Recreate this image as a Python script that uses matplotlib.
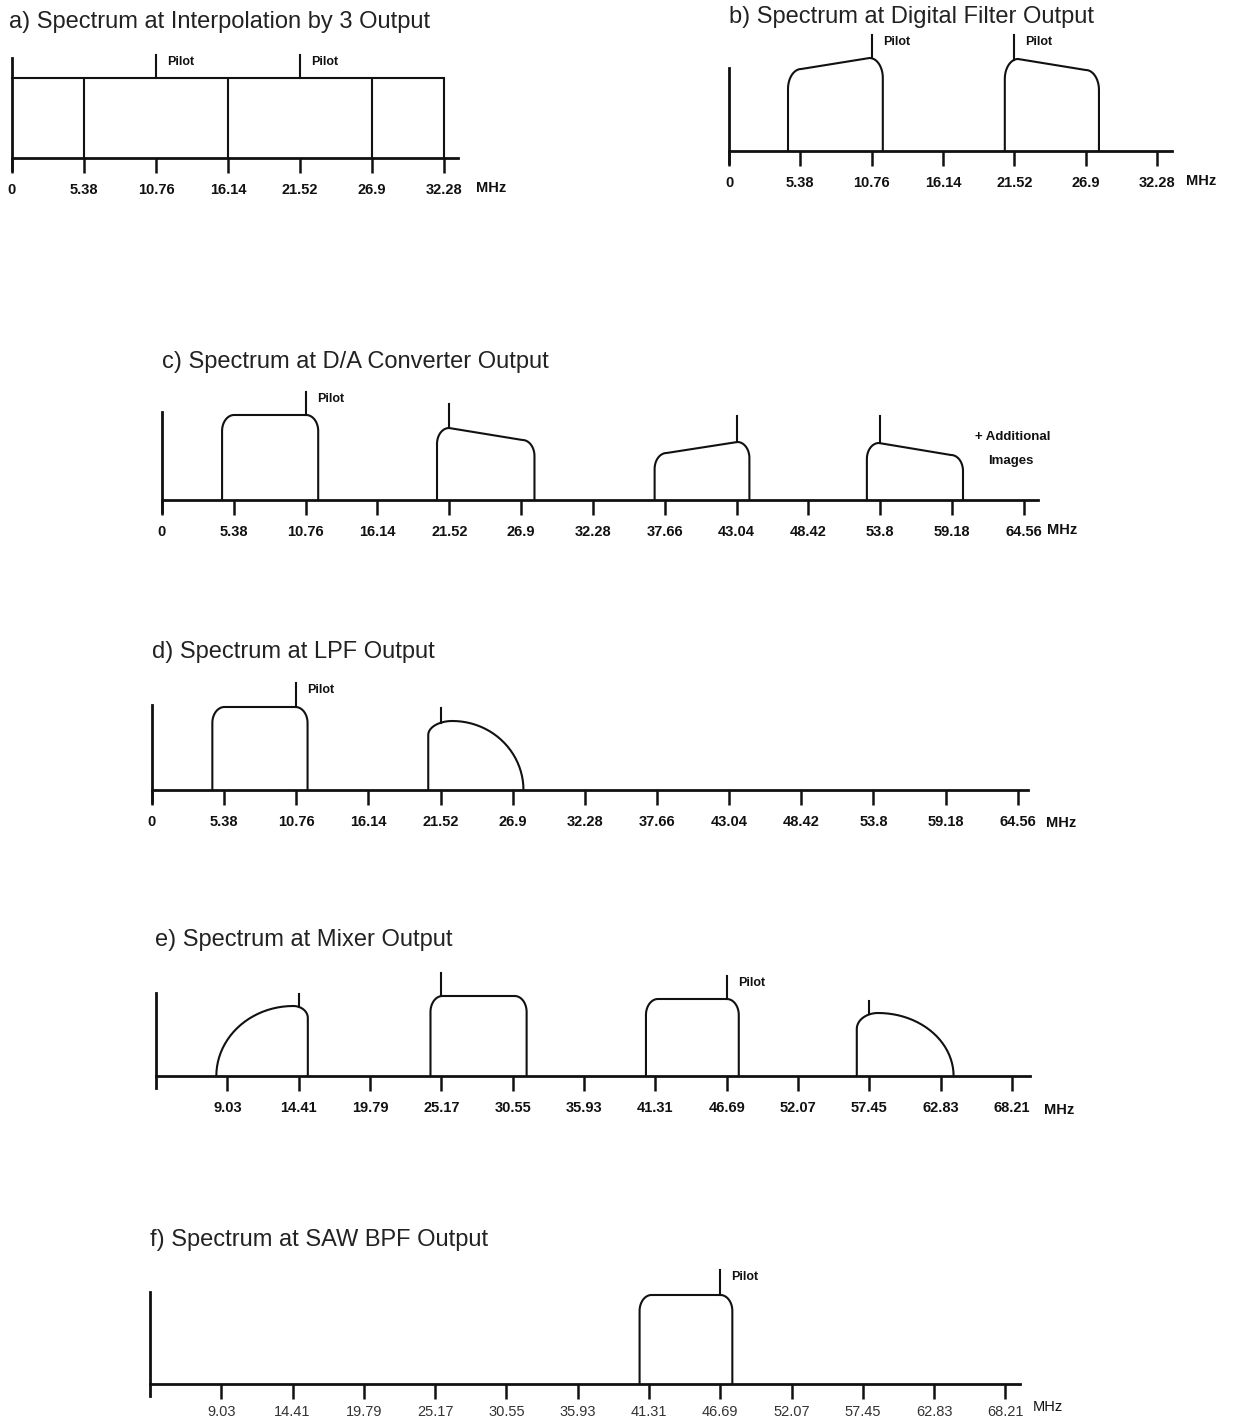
import numpy as np
import matplotlib
matplotlib.use("Agg")
import matplotlib.pyplot as plt

plt.rcParams['font.family'] = ['Liberation Sans', 'DejaVu Sans']

# ---------------- data ----------------
# a) Interpolation by 3
a_ticks = [0, 5.38, 10.76, 16.14, 21.52, 26.9, 32.28]
a_labels = ['0', '5.38', '10.76', '16.14', '21.52', '26.9', '32.28']
a_level = 80
a_edges = [5.38, 16.14, 26.9, 32.28]
a_pilots = [10.76, 21.52]
a_pilot_top = [103, 103]

# b) Digital filter
b_ticks = [0, 5.38, 10.76, 16.14, 21.52, 26.9, 32.28]
b_labels = ['0', '5.38', '10.76', '16.14', '21.52', '26.9', '32.28']
b_lo = [4.45, 20.8]
b_hi = [11.6, 27.9]
b_hleft = [82, 92]
b_hright = [93, 81]
b_pilots = [10.76, 21.52]
b_pilot_top = [116, 116]

# c) D/A converter
c_ticks = [0, 5.38, 10.76, 16.14, 21.52, 26.9, 32.28, 37.66, 43.04, 48.42, 53.8, 59.18, 64.56]
c_labels = ['0', '5.38', '10.76', '16.14', '21.52', '26.9', '32.28', '37.66', '43.04',
            '48.42', '53.8', '59.18', '64.56']
c_lo = [4.5, 20.6, 36.9, 52.8]
c_hi = [11.7, 27.9, 44.0, 60.0]
c_hleft = [85, 72, 47, 57]
c_hright = [85, 60, 58, 45]
c_pilots = [10.76, 21.52, 43.04, 53.8]
c_pilot_top = [108, 96, 84, 84]
c_pilot_named = [True, False, False, False]

# d) LPF
d_ticks = c_ticks
d_labels = c_labels
d_flat_lo, d_flat_hi, d_flat_h = [4.5], [11.6], [83]
d_arc_lo, d_arc_peak, d_arc_hi, d_arc_h, d_arc_edge = [20.6], [22.4], [27.7], [69], [55]
d_pilots = [10.76, 21.52]
d_pilot_top = [107, 82]
d_pilot_named = [True, False]

# e) Mixer
e_ticks = [9.03, 14.41, 19.79, 25.17, 30.55, 35.93, 41.31, 46.69, 52.07, 57.45, 62.83, 68.21]
e_labels = ['9.03', '14.41', '19.79', '25.17', '30.55', '35.93', '41.31', '46.69',
            '52.07', '57.45', '62.83', '68.21']
e_up_lo, e_up_peak, e_up_hi, e_up_h, e_up_edge = [8.2], [14.0], [15.1], [70], [58]
e_flat_lo, e_flat_hi, e_flat_h = [24.35, 40.6], [31.6, 47.6], [80, 77]
e_down_lo, e_down_peak, e_down_hi, e_down_h, e_down_edge = [56.5], [58.1], [63.8], [63], [47]
e_pilots = [14.41, 25.17, 46.69, 57.45]
e_pilot_top = [82, 103, 100, 75]
e_pilot_named = [False, False, True, False]

# f) SAW BPF
f_ticks = e_ticks
f_labels = e_labels
f_lo, f_hi, f_h = [40.6], [47.6], [89]
f_pilots = [46.69]
f_pilot_top = [114]
f_pilot_named = [True]

# ---------------- helpers ----------------
W, H = 1235, 1421
fig = plt.figure(figsize=(W / 100, H / 100), dpi=100)
INK = '#111111'
LW = 1.5
TICK_FS = 10.5
T = np.linspace(0, np.pi / 2, 24)


def make_axes(x_px0, f_axis, ppm, base_px, width_px):
    left_px = x_px0 - 30
    right_px = x_px0 + width_px
    ybot, ytop = 50, 135
    ax = fig.add_axes([left_px / W, 1 - (base_px + ybot) / H,
                       (right_px - left_px) / W, (ybot + ytop) / H])
    ax.set_xlim(f_axis - 30 / ppm, f_axis + width_px / ppm)
    ax.set_ylim(-ybot, ytop)
    ax.patch.set_visible(False)
    for s in ('top', 'right'):
        ax.spines[s].set_visible(False)
    ax.spines['left'].set_position(('data', f_axis))
    ax.spines['bottom'].set_position(('data', 0))
    for s in ('left', 'bottom'):
        ax.spines[s].set_linewidth(2.0)
        ax.spines[s].set_color(INK)
    ax.set_yticks([])
    return ax


def finish_axis(ax, ticks, labels, f_axis, x_end, yaxis_top, bold=True, color=INK):
    ax.spines['left'].set_bounds(-12, yaxis_top)
    ax.spines['bottom'].set_bounds(f_axis, x_end)
    ax.set_xticks(ticks, labels)
    ax.tick_params(axis='x', direction='out', length=11, width=1.8, pad=7,
                   labelsize=TICK_FS, colors=INK, labelcolor=color)
    for t in ax.get_xticklabels():
        t.set_fontweight('bold' if bold else 'normal')


def rounded_band(ax, lo, hi, hl, hr, rf=0.9, rh=16):
    lx = lo + rf - rf * np.cos(T)
    ly = hl - rh + rh * np.sin(T)
    rx = hi - rf + rf * np.sin(T)
    ry = hr - rh + rh * np.cos(T)
    tx = np.concatenate([lx, rx])
    ty = np.concatenate([ly, ry])
    ax.plot(np.concatenate([[lo], tx, [hi]]), np.concatenate([[0], ty, [0]]),
            color=INK, lw=LW, solid_joinstyle='round')
    return tx, ty


def arc_down_band(ax, lo, peak, hi, h, edge):
    lx = peak - (peak - lo) * np.cos(T)
    ly = edge + (h - edge) * np.sin(T)
    rx = peak + (hi - peak) * np.sin(T)
    ry = h * np.cos(T)
    tx = np.concatenate([lx, rx])
    ty = np.concatenate([ly, ry])
    ax.plot(np.concatenate([[lo], tx]), np.concatenate([[0], ty]), color=INK, lw=LW)
    return tx, ty


def arc_up_band(ax, lo, peak, hi, h, edge):
    lx = peak - (peak - lo) * np.cos(T)
    ly = h * np.sin(T)
    rx = peak + (hi - peak) * np.sin(T)
    ry = edge + (h - edge) * np.cos(T)
    tx = np.concatenate([lx, rx])
    ty = np.concatenate([ly, ry])
    ax.plot(np.concatenate([tx, [hi]]), np.concatenate([ty, [0]]), color=INK, lw=LW)
    return tx, ty


def pilot(ax, p, base, top, named):
    ax.plot([p, p], [base, top], color=INK, lw=LW)
    if named:
        ax.annotate('Pilot', xy=(p, top), xytext=(8, -5), textcoords='offset points',
                    fontsize=9, fontweight='bold', va='center', ha='left', color=INK)


def pilots_on(ax, tops_xy, pilots, pilot_tops, named):
    tx = np.concatenate([t[0] for t in tops_xy])
    ty = np.concatenate([t[1] for t in tops_xy])
    order = np.argsort(tx)
    tx, ty = tx[order], ty[order]
    for p, top, nm in zip(pilots, pilot_tops, named):
        pilot(ax, p, np.interp(p, tx, ty), top, nm)


def mhz(ax, x, y=-30, bold=True):
    ax.text(x, y, 'MHz', fontsize=TICK_FS, fontweight='bold' if bold else 'normal',
            va='center', ha='left', color=INK)


def title(x, y, s):
    fig.text(x / W, 1 - y / H, s, fontsize=17, va='center', ha='left', color='#222222')


# ---------------- panel a ----------------
title(9, 22, 'a) Spectrum at Interpolation by 3 Output')
ax = make_axes(12, 0, 13.38, 158, 500)
ax.plot([a_ticks[0], a_edges[-1]], [a_level, a_level], color=INK, lw=LW)
ax.vlines(a_edges, 0, a_level, color=INK, lw=LW)
for p, top in zip(a_pilots, a_pilot_top):
    pilot(ax, p, a_level, top, True)
finish_axis(ax, a_ticks, a_labels, 0, 33.3, 100)
mhz(ax, 34.7)

# ---------------- panel b ----------------
title(729, 17, 'b) Spectrum at Digital Filter Output')
ax = make_axes(729, 0, 13.26, 151, 500)
tops = [rounded_band(ax, lo, hi, hl, hr, rf=1.0, rh=20)
        for lo, hi, hl, hr in zip(b_lo, b_hi, b_hleft, b_hright)]
pilots_on(ax, tops, b_pilots, b_pilot_top, [True, True])
finish_axis(ax, b_ticks, b_labels, 0, 33.4, 83)
mhz(ax, 34.5)

# ---------------- panel c ----------------
title(162, 362, 'c) Spectrum at D/A Converter Output')
ax = make_axes(162, 0, 13.35, 500, 960)
tops = [rounded_band(ax, lo, hi, hl, hr)
        for lo, hi, hl, hr in zip(c_lo, c_hi, c_hleft, c_hright)]
pilots_on(ax, tops, c_pilots, c_pilot_top, c_pilot_named)
finish_axis(ax, c_ticks, c_labels, 0, 65.6, 88)
mhz(ax, 66.3)
fig.text(975 / W, 1 - 437 / H, '+ Additional', fontsize=9.5, fontweight='bold',
         va='center', ha='left', color=INK)
fig.text(988 / W, 1 - 461 / H, 'Images', fontsize=9.5, fontweight='bold',
         va='center', ha='left', color=INK)

# ---------------- panel d ----------------
title(152, 652, 'd) Spectrum at LPF Output')
ax = make_axes(152, 0, 13.41, 790, 960)
tops = [rounded_band(ax, lo, hi, h, h)
        for lo, hi, h in zip(d_flat_lo, d_flat_hi, d_flat_h)]
tops += [arc_down_band(ax, lo, pk, hi, h, ed)
         for lo, pk, hi, h, ed in zip(d_arc_lo, d_arc_peak, d_arc_hi, d_arc_h, d_arc_edge)]
pilots_on(ax, tops, d_pilots, d_pilot_top, d_pilot_named)
finish_axis(ax, d_ticks, d_labels, 0, 65.3, 85)
mhz(ax, 66.7, -33)

# ---------------- panel e ----------------
title(155, 940, 'e) Spectrum at Mixer Output')
ax = make_axes(156, 3.65, 13.26, 1076, 960)
tops = [arc_up_band(ax, lo, pk, hi, h, ed)
        for lo, pk, hi, h, ed in zip(e_up_lo, e_up_peak, e_up_hi, e_up_h, e_up_edge)]
tops += [rounded_band(ax, lo, hi, h, h)
         for lo, hi, h in zip(e_flat_lo, e_flat_hi, e_flat_h)]
tops += [arc_down_band(ax, lo, pk, hi, h, ed)
         for lo, pk, hi, h, ed in zip(e_down_lo, e_down_peak, e_down_hi, e_down_h, e_down_edge)]
pilots_on(ax, tops, e_pilots, e_pilot_top, e_pilot_named)
finish_axis(ax, e_ticks, e_labels, 3.65, 69.6, 83)
mhz(ax, 70.6, -34)

# ---------------- panel f ----------------
title(150, 1240, 'f) Spectrum at SAW BPF Output')
ax = make_axes(150, 3.65, 13.25, 1384, 960)
tops = [rounded_band(ax, lo, hi, h, h) for lo, hi, h in zip(f_lo, f_hi, f_h)]
pilots_on(ax, tops, f_pilots, f_pilot_top, f_pilot_named)
finish_axis(ax, f_ticks, f_labels, 3.65, 69.3, 92, bold=False, color='#333333')
ax.tick_params(axis='x', pad=4)
mhz(ax, 70.3, -23, bold=False)

fig.savefig('out.png', dpi=100, facecolor='white')
